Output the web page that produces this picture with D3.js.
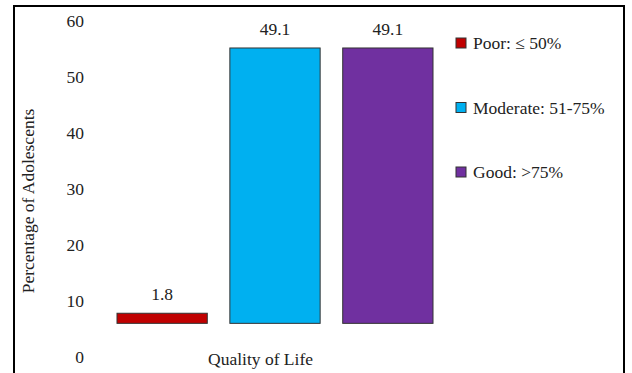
<!DOCTYPE html>
<html>
<head>
<meta charset="utf-8">
<script src="https://cdn.jsdelivr.net/npm/d3@7"></script>
<style>
  html, body { margin: 0; padding: 0; background: #fff; }
  svg { display: block; }
</style>
</head>
<body>
<svg id="chart" width="632" height="373"></svg>
<script>
// Quality of life categories and the share of adolescents in each
const categories = ["Poor: \u2264 50%", "Moderate: 51-75%", "Good: >75%"];
const values = [1.8, 49.1, 49.1];
const colors = ["#C00000", "#00B0F0", "#7030A0"];
const yTicks = [0, 10, 20, 30, 40, 50, 60];
// bars rest on a raised floor above the zero line
const barFloor = 6;

const FONT = "Liberation Serif";
const SIZE = 17.5;
const svg = d3.select("#chart");

function label(sel) {
  return sel.attr("font-family", FONT).attr("font-size", SIZE).attr("fill", "#222");
}

// outer frame (open at the bottom edge)
svg.append("rect")
  .attr("x", 14).attr("y", 6)
  .attr("width", 610).attr("height", 420)
  .attr("fill", "none").attr("stroke", "#000").attr("stroke-width", 2);

const y = d3.scaleLinear().domain([0, 60]).range([357, 20.5]);
const x = d3.scaleBand().domain(categories).range([117, 433]).paddingInner(0.2).paddingOuter(0);

// value axis labels (no axis line or tick marks)
svg.append("g").selectAll("text")
  .data(yTicks)
  .join("text")
  .call(label)
  .attr("x", 84)
  .attr("y", d => y(d))
  .attr("dy", "0.35em")
  .attr("text-anchor", "end")
  .text(d => y.tickFormat()(d));

// bars
svg.append("g").selectAll("rect")
  .data(values)
  .join("rect")
  .attr("x", (d, i) => x(categories[i]))
  .attr("width", x.bandwidth())
  .attr("y", d => y(barFloor + d))
  .attr("height", d => y(barFloor) - y(barFloor + d))
  .attr("fill", (d, i) => colors[i])
  .attr("stroke", "#333")
  .attr("stroke-width", 1);

// value labels
svg.append("g").selectAll("text")
  .data(values)
  .join("text")
  .call(label)
  .attr("x", (d, i) => x(categories[i]) + x.bandwidth() / 2)
  .attr("y", d => y(barFloor + d) - 13)
  .attr("text-anchor", "middle")
  .text(d => d.toFixed(1));

// axis titles
svg.append("text")
  .call(label)
  .attr("x", 260.5).attr("y", 365)
  .attr("text-anchor", "middle")
  .text("Quality of Life");

svg.append("text")
  .call(label)
  .attr("transform", "translate(34,201) rotate(-90)")
  .attr("text-anchor", "middle")
  .text("Percentage of Adolescents");

// legend
const legendY = d3.scalePoint().domain(categories).range([43, 172]);
const legend = svg.append("g").selectAll("g")
  .data(categories)
  .join("g")
  .attr("transform", d => `translate(456,${legendY(d)})`);
legend.append("rect")
  .attr("x", 0).attr("y", -5)
  .attr("width", 10).attr("height", 10)
  .attr("fill", (d, i) => colors[i])
  .attr("stroke", "#333").attr("stroke-width", 1);
legend.append("text")
  .call(label)
  .attr("x", 17).attr("y", 0).attr("dy", "0.35em")
  .text(d => d);
</script>
</body>
</html>
